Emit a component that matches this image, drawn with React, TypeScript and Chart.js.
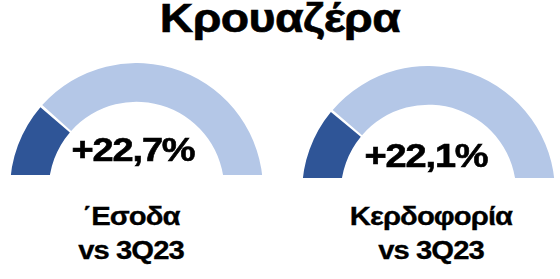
import React, { useEffect, useRef } from "react";
import { Chart, registerables } from "chart.js";

Chart.register(...registerables);

const title = "Κρουαζέρα";
const gaugeLabels = ["΄Εσοδα", "Κερδοφορία"];
const gaugeSubLabels = ["vs 3Q23", "vs 3Q23"];
const gaugeValues = [22.7, 22.1];
const gaugeMax = 100;
const valueTexts = ["+22,7%", "+22,1%"];

const DARK = "#2F5597";
const LIGHT = "#B4C7E7";
const FONT = '"Liberation Sans", Arial, Helvetica, sans-serif';

type GaugeProps = {
  value: number;
  cx: number;
  cy: number;
  cutY: number;
};

function Gauge({ value, cx, cy, cutY }: GaugeProps) {
  const ref = useRef<HTMLCanvasElement | null>(null);
  const W = 253;
  const H = 128;
  useEffect(() => {
    if (!ref.current) return;
    const chart = new Chart(ref.current, {
      type: "doughnut",
      data: {
        labels: ["value", "rest"],
        datasets: [
          {
            data: [value, gaugeMax - value],
            backgroundColor: [DARK, LIGHT],
            borderWidth: 0,
            spacing: 3,
          },
        ],
      },
      options: {
        responsive: false,
        animation: false,
        rotation: -90,
        circumference: 180,
        cutout: "69%",
        layout: { padding: 0 },
        plugins: { legend: { display: false }, tooltip: { enabled: false } },
        events: [],
      },
    });
    return () => chart.destroy();
  }, [value]);
  const left = cx - W / 2;
  const top = cy - (H - 1.5);
  return (
    <div
      style={{
        position: "absolute",
        left,
        top,
        width: W,
        height: cutY - top,
        overflow: "hidden",
      }}
    >
      <canvas ref={ref} width={W} height={H} style={{ width: W, height: H, display: "block" }} />
    </div>
  );
}

function Stretched({
  children,
  cx,
  top,
  size,
  lh,
  ls,
  sx,
  stroke,
}: {
  children: React.ReactNode;
  cx: number;
  top: number;
  size: number;
  lh: number;
  ls: number;
  sx: number;
  stroke: number;
}) {
  return (
    <div
      style={{
        position: "absolute",
        left: cx - 150,
        width: 300,
        top,
        textAlign: "center",
        fontSize: size,
        fontWeight: 700,
        lineHeight: lh + "px",
        letterSpacing: ls,
        transform: `scaleX(${sx})`,
        transformOrigin: "50% 50%",
        whiteSpace: "nowrap",
        WebkitTextStroke: `${stroke}px #000`,
      }}
    >
      {children}
    </div>
  );
}

export default function App() {
  const centers = [
    { cx: 136, cy: 189, cutY: 175, tx: 132.5, ty: 130, lx: 131 },
    { cx: 428, cy: 192, cutY: 178, tx: 425.5, ty: 136, lx: 431 },
  ];
  return (
    <div
      style={{
        position: "fixed",
        left: 0,
        top: 0,
        width: 560,
        height: 279,
        background: "#fff",
        fontFamily: FONT,
        color: "#000",
        overflow: "hidden",
      }}
    >
      <Stretched cx={280} top={-6} size={40} lh={48} ls={-0.5} sx={1.16} stroke={0.6}>
        {title}
      </Stretched>
      {gaugeValues.map((v, i) => (
        <Gauge key={i} value={v} cx={centers[i].cx} cy={centers[i].cy} cutY={centers[i].cutY} />
      ))}
      {valueTexts.map((t, i) => (
        <Stretched key={"v" + i} cx={centers[i].tx} top={centers[i].ty} size={33} lh={40} ls={-1} sx={1.15} stroke={0.6}>
          {t}
        </Stretched>
      ))}
      {gaugeLabels.map((t, i) => (
        <Stretched key={"l" + i} cx={centers[i].lx} top={199} size={25} lh={34} ls={-0.8} sx={1.17} stroke={0.3}>
          <div>{t}</div>
          <div>{gaugeSubLabels[i]}</div>
        </Stretched>
      ))}
    </div>
  );
}
